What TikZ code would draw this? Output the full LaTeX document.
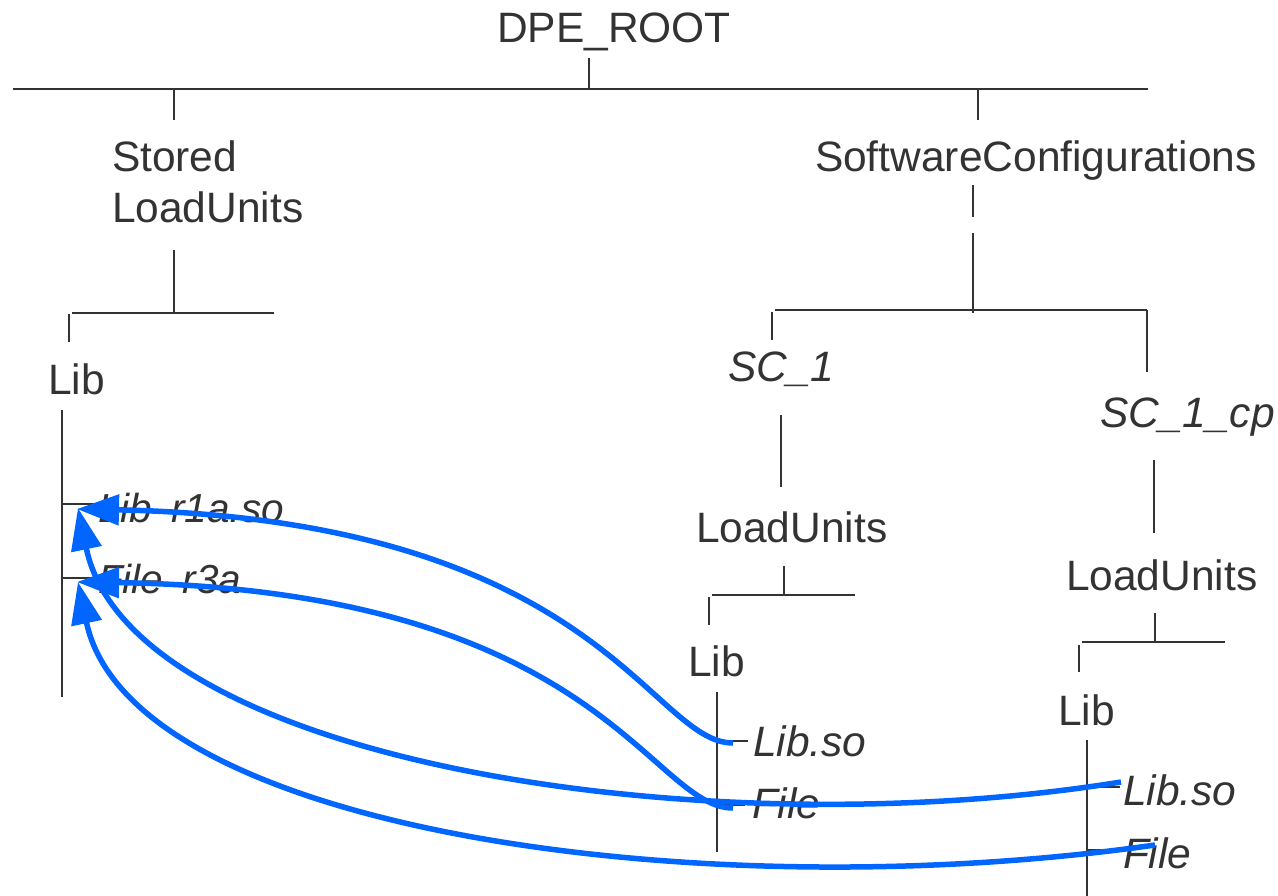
\documentclass[tikz,border=0pt]{standalone}
\usepackage{fontspec}
\setmainfont{Liberation Sans}
\usetikzlibrary{arrows.meta}
\definecolor{txt}{HTML}{333333}
\definecolor{arr}{RGB}{0,102,255}
\begin{document}
\begin{tikzpicture}[x=1pt,y=-1pt,
  lbl/.style={anchor=base west, inner sep=0pt, outer sep=0pt, text=txt, font=\fontsize{42.5}{51}\selectfont},
  ilbl/.style={lbl, font=\fontsize{42.5}{51}\selectfont\itshape},
  slbl/.style={lbl, font=\fontsize{40.5}{48}\selectfont\itshape},
  tree/.style={draw=txt, line width=2pt},
  link/.style={draw=arr, line width=5.5pt, -{Triangle[length=42pt,width=30pt]}}]
\useasboundingbox (0,0) rectangle (1278,896);
% labels
\node[lbl] (root) at (497,43) {DPE\_ROOT};
\node[lbl] (stored) at (112,172) {Stored};
\node[lbl] (storedlu) at (112,223) {LoadUnits};
\node[lbl] (swc) at (815,172) {SoftwareConfigurations};
\node[lbl] (lib0) at (48,394) {Lib};
\node[ilbl] (sc1) at (728,381) {SC\_1};
\node[ilbl] (sc1cp) at (1100,427) {SC\_1\_cp};
\node[lbl] (lu1) at (696,542) {LoadUnits};
\node[lbl] (lu2) at (1066,590) {LoadUnits};
\node[lbl] (lib1) at (688,676) {Lib};
\node[lbl] (lib2) at (1058,725) {Lib};
\node[slbl] (r1a) at (98,522) {Lib\ \hspace{.2em}r1a.so};
\node[slbl] (r3a) at (98,593) {File\ \hspace{.2em}r3a};
\node[ilbl] (libso1) at (753,756) {Lib.so};
\node[ilbl] (file1) at (752,818) {File};
\node[ilbl] (libso2) at (1123,805) {Lib.so};
\node[ilbl] (file2) at (1123,868) {File};
% tree lines
\draw[tree, line width=2.6pt] (13,89) -- (1148,89);
\draw[tree] (589,58) -- (589,89);
\draw[tree] (174,89) -- (174,120);
\draw[tree] (978,89) -- (978,120);
\draw[tree] (174,250) -- (174,313);
\draw[tree] (72,313) -- (274,313);
\draw[tree] (69,314) -- (69,342);
\draw[tree] (62,410) -- (62,697);
\draw[tree] (62,504) -- (95,504);
\draw[tree] (62,578) -- (95,578);
\draw[tree] (973,185) -- (973,217);
\draw[tree] (973,233) -- (973,313);
\draw[tree] (775,310) -- (1147,310);
\draw[tree] (772,312) -- (772,340);
\draw[tree] (1147,310) -- (1147,372);
\draw[tree] (781,415) -- (781,487);
\draw[tree] (1154,460) -- (1154,533);
\draw[tree] (784,566) -- (784,595);
\draw[tree] (712,595) -- (855,595);
\draw[tree] (709,597) -- (709,625);
\draw[tree] (717,692) -- (717,852);
\draw[tree] (717,741) -- (748,741);
\draw[tree] (717,805) -- (745,805);
\draw[tree] (1155,613) -- (1155,642);
\draw[tree] (1082,642) -- (1225,642);
\draw[tree] (1079,645) -- (1079,672);
\draw[tree] (1087,740) -- (1087,896);
\draw[tree] (1087,787) -- (1120,787);
\draw[tree] (1087,850) -- (1125,850);
% link end points
\coordinate (aS) at (733,743);
\coordinate (aT) at (77,509);
\coordinate (bS) at (733,808);
\coordinate (bT) at (77,582);
\coordinate (cS) at (1121,782);
\coordinate (cT) at (78,508);
\coordinate (dS) at (1155,845);
\coordinate (dT) at (78,582);
% links
\draw[link] (aS) .. controls (650,743) and (600,520) .. (aT);
\draw[link] (bS) .. controls (650,808) and (600,590) .. (bT);
\draw[link] (cS) .. controls (700,850) and (130,760) .. (cT);
\draw[link] (dS) .. controls (700,910) and (130,830) .. (dT);
\end{tikzpicture}
\end{document}
